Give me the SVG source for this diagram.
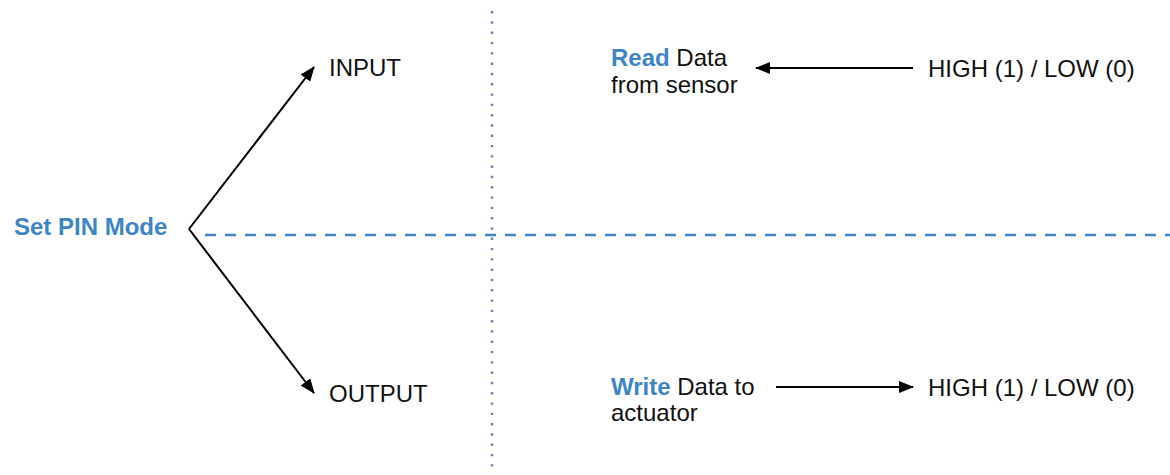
<svg xmlns="http://www.w3.org/2000/svg" width="1170" height="475" viewBox="0 0 1170 475">
  <style>
    text { font-family: "Liberation Sans", Arial, sans-serif; font-size: 24px; fill: #111; }
    .blue { fill: #3d85c6; font-weight: bold; }
    .conn { stroke: #000; stroke-width: 2; fill: none; }
  </style>
  <defs>
    <marker id="ah" viewBox="0 0 15 12" refX="14" refY="6" markerWidth="15" markerHeight="12" markerUnits="userSpaceOnUse" orient="auto">
      <path d="M0,0 L15,6 L0,12 Z" fill="#000"/>
    </marker>
  </defs>
  <rect width="1170" height="475" fill="#fff"/>

  <g id="dividers">
    <line x1="492" y1="11" x2="492" y2="472" stroke="#5f86b3" stroke-width="2.4" stroke-dasharray="2.4 7.9"/>
    <line x1="205" y1="235" x2="1170" y2="235" stroke="#3d85c6" stroke-width="2.5" stroke-dasharray="11 9"/>
  </g>

  <g id="connectors">
    <line class="conn" x1="189" y1="229" x2="314" y2="67" marker-end="url(#ah)"/>
    <line class="conn" x1="189" y1="229" x2="314" y2="393" marker-end="url(#ah)"/>
    <line class="conn" x1="913" y1="68" x2="756" y2="68" marker-end="url(#ah)"/>
    <line class="conn" x1="776" y1="387" x2="913" y2="387" marker-end="url(#ah)"/>
  </g>

  <g id="node-set-pin-mode">
    <text x="14" y="235" class="blue">Set PIN Mode</text>
  </g>
  <g id="node-input">
    <text x="329" y="76">INPUT</text>
  </g>
  <g id="node-output">
    <text x="329" y="402">OUTPUT</text>
  </g>
  <g id="node-read">
    <text x="611" y="66"><tspan class="blue">Read</tspan> Data</text>
    <text x="611" y="93">from sensor</text>
  </g>
  <g id="node-write">
    <text x="611" y="395"><tspan class="blue">Write</tspan> Data to</text>
    <text x="611" y="421">actuator</text>
  </g>
  <g id="node-high-low-in">
    <text x="928" y="77">HIGH (1) / LOW (0)</text>
  </g>
  <g id="node-high-low-out">
    <text x="928" y="396">HIGH (1) / LOW (0)</text>
  </g>
</svg>
